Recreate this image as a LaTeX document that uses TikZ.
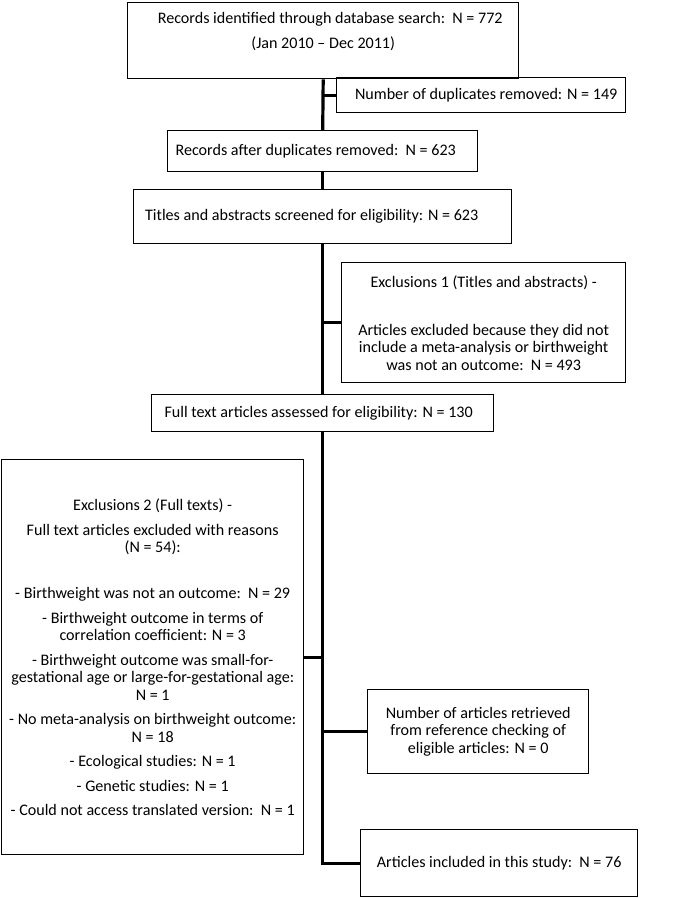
\documentclass[tikz,border=0pt]{standalone}
\usepackage{fontspec}
\setmainfont{Carlito}
\usepackage{tikz}
\usetikzlibrary{calc}
\usetikzlibrary{positioning}
\tikzstyle{box} = [draw=black, line width=1.4pt, anchor=north west, align=center, inner sep=0pt, font=\fontsize{16.1}{17.5}\selectfont]
\tikzstyle{link} = [line width=3.2pt]

\begin{document}
\begin{tikzpicture}[x=1pt,y=-1pt]
\useasboundingbox (0,0) rectangle (685,898);

\coordinate (REC) at (127,2);
\coordinate (DUP) at (336,77);
\coordinate (AFT) at (167,130);
\coordinate (TIT) at (133,189);
\coordinate (EX1) at (341,262);
\coordinate (FUL) at (151,394);
\coordinate (EX2) at (1,459);
\coordinate (RET) at (367,689);
\coordinate (INC) at (360,829);

\node [box, minimum width=391pt, minimum height=76pt] (rec) at (REC) {\hspace{14pt}Records identified through database search:~~N = 772\\[7.5pt](Jan 2010 -- Dec 2011)\\[2.5pt]\mbox{}};
\node [box, minimum width=289pt, minimum height=35pt] (dup) at (DUP) {\hspace{10pt}Number of duplicates removed: N = 149};
\node [box, minimum width=310pt, minimum height=41pt] (aft) at (AFT) {Records after duplicates removed:~~N = 623\hspace{14pt}};
\node [box, minimum width=378pt, minimum height=54pt] (tit) at (TIT) {Titles and abstracts screened for eligibility: N = 623\hspace{22pt}};
\node [box, minimum width=284pt, minimum height=120pt] (ex1) at (EX1) {Exclusions 1 (Titles and abstracts) -\\[30.5pt]Articles excluded because they did not\\include a meta-analysis or birthweight\\was not an outcome:~~N = 493};
\node [box, minimum width=342pt, minimum height=37pt] (ful) at (FUL) {Full text articles assessed for eligibility: N = 130\hspace{8pt}};
\node [box, minimum width=302pt, minimum height=395pt] (ex2) at (EX2) {Exclusions 2 (Full texts) -\\[7pt]Full text articles excluded with reasons\\(N = 54):\\[28.5pt]- Birthweight was not an outcome:~~N = 29\\[7pt]- Birthweight outcome in terms of\\correlation coefficient: N = 3\\[7pt]- Birthweight outcome was small-for-\\gestational age or large-for-gestational age:\\N = 1\\[7pt]- No meta-analysis on birthweight outcome:\\N = 18\\[7pt]- Ecological studies: N = 1\\[7pt]- Genetic studies: N = 1\\[7pt]- Could not access translated version:~~N = 1};
\node [box, minimum width=221pt, minimum height=84pt] (ret) at (RET) {Number of articles retrieved\\from reference checking of\\eligible articles: N = 0};
\node [box, minimum width=277pt, minimum height=67pt] (inc) at (INC) {Articles included in this study:~~N = 76};

% main line
\draw [link] (rec.south) -- (aft.north);
\draw [link] (aft.south) -- (tit.north);
\draw [link] (tit.south) -- (ful.north);
\draw [link] (ful.south) |- (inc.west);
% side branches
\draw [link] (rec.south |- dup.west) -- (dup.west);
\draw [link] (tit.south |- ex1.west) -- (ex1.west);
\draw [link] (ex2.east) -- (ex2.east -| ful.south);
\draw [link] (ful.south |- ret.west) -- (ret.west);

\end{tikzpicture}
\end{document}
